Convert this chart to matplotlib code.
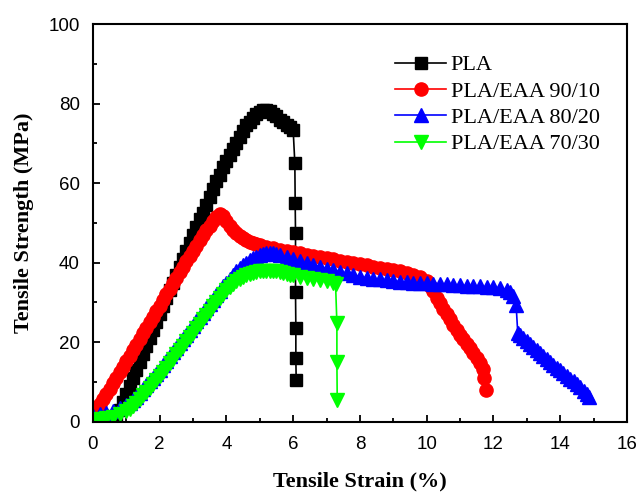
import matplotlib
matplotlib.use("Agg")
import matplotlib.pyplot as plt

# PLA
pla_strain = [0.6, 0.7, 0.8, 0.9, 1.0, 1.1, 1.2, 1.3, 1.4, 1.5, 1.6, 1.7, 1.8, 1.9,
              2.0, 2.1, 2.2, 2.3, 2.4, 2.5, 2.6, 2.7, 2.8, 2.9, 3.0, 3.1, 3.2, 3.3,
              3.4, 3.5, 3.6, 3.7, 3.8, 3.9, 4.0, 4.1, 4.2, 4.3, 4.4, 4.5, 4.6, 4.7,
              4.8, 4.9, 5.0, 5.1, 5.2, 5.3, 5.4, 5.5, 5.6, 5.7, 5.8, 5.9, 6.0,
              6.05, 6.06, 6.07, 6.07, 6.08, 6.08, 6.09]
pla_stress = [0.5, 1.5, 3, 5, 7, 9, 11, 13, 15, 17, 19, 21, 23, 25,
              27, 29, 31, 33, 35, 37, 39, 41, 43, 45, 47, 49, 51, 52.5,
              54.5, 56.5, 58.5, 60.5, 62, 64, 65.5, 67, 68.5, 70, 71.5, 73, 74.5, 75.5,
              76.5, 77.3, 78, 78.4, 78.5, 78.2, 77.5, 76.8, 76, 75.3, 74.6, 74, 73.3,
              65, 55, 47.5, 32.5, 23.5, 16, 10.5]

# PLA/EAA 90/10
r_strain = [0.0, 0.1, 0.2, 0.3, 0.4, 0.5, 0.6, 0.7, 0.8, 0.9, 1.0, 1.1, 1.2, 1.3,
            1.4, 1.5, 1.6, 1.7, 1.8, 1.9, 2.0, 2.1, 2.2, 2.3, 2.4, 2.5, 2.6, 2.7,
            2.8, 2.9, 3.0, 3.1, 3.2, 3.3, 3.4, 3.5, 3.6, 3.7, 3.8, 3.9, 4.0, 4.1,
            4.2, 4.3, 4.4, 4.5, 4.6, 4.7, 4.8, 4.9, 5.0, 5.2, 5.4, 5.6, 5.8, 6.0,
            6.2, 6.4, 6.6, 6.8, 7.0, 7.2, 7.4, 7.6, 7.8, 8.0, 8.2, 8.4, 8.6, 8.8,
            9.0, 9.2, 9.4, 9.6, 9.8, 10.0, 10.1, 10.2, 10.3, 10.4, 10.5, 10.6, 10.7,
            10.8, 10.9, 11.0, 11.1, 11.2, 11.3, 11.4, 11.5, 11.6, 11.7, 11.72, 11.78]
r_stress = [2.5, 3.5, 4.5, 5.8, 7, 8.3, 9.6, 11, 12.4, 13.8, 15.2, 16.6, 18, 19.4,
            20.8, 22.2, 23.6, 25, 26.4, 27.8, 29.2, 30.6, 32, 33.4, 34.8, 36.2, 37.6, 39,
            40.4, 41.7, 43, 44.3, 45.6, 46.9, 48.1, 49.3, 50.5, 51.5, 52.2, 51.8, 50.5, 49.3,
            48.3, 47.5, 46.8, 46.2, 45.7, 45.3, 45, 44.7, 44.4, 44, 43.6, 43.2, 42.9, 42.6,
            42.3, 42, 41.7, 41.4, 41.1, 40.8, 40.5, 40.2, 39.9, 39.6, 39.3, 39, 38.7, 38.4,
            38.1, 37.8, 37.5, 37, 36.4, 35.5, 34.2, 32.8, 31.2, 29.8, 28.4, 27, 25.7,
            24.4, 23.1, 21.9, 20.7, 19.5, 18.4, 17.2, 16, 14.7, 13.2, 10.9, 8.0]

# PLA/EAA 80/20
b_strain = [0.0, 0.2, 0.4, 0.6, 0.8, 1.0, 1.1, 1.2, 1.3, 1.4, 1.5, 1.6, 1.7, 1.8,
            1.9, 2.0, 2.1, 2.2, 2.3, 2.4, 2.5, 2.6, 2.7, 2.8, 2.9, 3.0, 3.1, 3.2,
            3.3, 3.4, 3.5, 3.6, 3.7, 3.8, 3.9, 4.0, 4.1, 4.2, 4.3, 4.4, 4.5, 4.6,
            4.7, 4.8, 4.9, 5.0, 5.1, 5.2, 5.3, 5.4, 5.5, 5.6, 5.8, 6.0, 6.2, 6.4,
            6.6, 6.8, 7.0, 7.2, 7.4, 7.6, 7.8, 8.0, 8.2, 8.4, 8.6, 8.8, 9.0, 9.2,
            9.4, 9.6, 9.8, 10.0, 10.2, 10.4, 10.6, 10.8, 11.0, 11.2, 11.4, 11.6, 11.8,
            12.0, 12.2, 12.4, 12.5, 12.6, 12.68, 12.73, 12.8, 12.9, 13.0, 13.1, 13.2,
            13.3, 13.4, 13.5, 13.6, 13.7, 13.8, 13.9, 14.0, 14.1, 14.2, 14.3, 14.4,
            14.5, 14.6, 14.7, 14.8, 14.87]
b_stress = [1.5, 1.8, 2.2, 2.7, 3.4, 4.2, 4.8, 5.5, 6.3, 7.2, 8.1, 9.1, 10.1, 11.1,
            12.1, 13.1, 14.2, 15.3, 16.4, 17.5, 18.6, 19.7, 20.8, 21.9, 23, 24.1, 25.2, 26.3,
            27.4, 28.5, 29.6, 30.7, 31.8, 32.9, 34, 35, 36, 37, 37.9, 38.7, 39.4, 40,
            40.6, 41.1, 41.5, 41.9, 42.2, 42.4, 42.5, 42.4, 42.2, 42, 41.5, 41, 40.5, 40,
            39.5, 39, 38.5, 38.1, 37.7, 37.3, 36.9, 36.5, 36.2, 36, 35.8, 35.6, 35.4, 35.2,
            35.1, 35, 34.9, 34.8, 34.7, 34.6, 34.5, 34.4, 34.3, 34.2, 34.1, 34, 33.9,
            33.8, 33.6, 33.2, 32.5, 31.5, 29.3, 22.3, 21.8, 21, 20.3, 19.5, 18.8,
            18, 17.3, 16.5, 15.8, 15, 14.3, 13.6, 12.9, 12.2, 11.5, 10.8, 10.1,
            9.4, 8.6, 7.8, 7, 6.3]

# PLA/EAA 70/30
g_strain = [0.0, 0.2, 0.4, 0.6, 0.8, 1.0, 1.1, 1.2, 1.3, 1.4, 1.5, 1.6, 1.7, 1.8,
            1.9, 2.0, 2.1, 2.2, 2.3, 2.4, 2.5, 2.6, 2.7, 2.8, 2.9, 3.0, 3.1, 3.2,
            3.3, 3.4, 3.5, 3.6, 3.7, 3.8, 3.9, 4.0, 4.1, 4.2, 4.3, 4.4, 4.5, 4.6,
            4.7, 4.8, 4.9, 5.0, 5.1, 5.2, 5.3, 5.4, 5.5, 5.6, 5.7, 5.8, 5.9, 6.0,
            6.2, 6.4, 6.6, 6.8, 7.0, 7.2, 7.27, 7.31, 7.31, 7.32]
g_stress = [0.5, 0.6, 0.8, 1.2, 1.8, 2.6, 3.2, 4, 4.8, 5.7, 6.6, 7.5, 8.5, 9.5,
            10.5, 11.5, 12.5, 13.6, 14.7, 15.8, 16.9, 18, 19.1, 20.2, 21.3, 22.4, 23.5, 24.6,
            25.7, 26.8, 27.9, 29, 30.1, 31.1, 32.1, 33, 33.9, 34.7, 35.4, 36, 36.5, 36.9,
            37.2, 37.5, 37.7, 37.9, 38, 38, 38, 37.9, 37.8, 37.6, 37.4, 37.2, 37, 36.8,
            36.5, 36.2, 35.9, 35.6, 35.3, 35, 34.6, 24.7, 15.1, 5.5]

labels = ['PLA', 'PLA/EAA 90/10', 'PLA/EAA 80/20', 'PLA/EAA 70/30']

fig = plt.figure(figsize=(6.41, 4.92), dpi=100)
ax = fig.add_axes([0.145, 0.143, 0.833, 0.808])

ax.plot(pla_strain, pla_stress, '-s', color='black', ms=8, lw=1.2, label=labels[0])
ax.plot(r_strain, r_stress, '-o', color='#ff0000', ms=9.5, lw=1.2, label=labels[1])
ax.plot(b_strain, b_stress, '-^', color='#0000ff', ms=10, lw=1.2, label=labels[2])
ax.plot(g_strain, g_stress, '-v', color='#00ff00', ms=10, lw=1.2, label=labels[3])

ax.set_xlim(0, 16)
ax.set_ylim(0, 100)
ax.set_xticks(range(0, 17, 2))
ax.set_xticks(range(1, 16, 2), minor=True)
ax.set_yticks(range(0, 101, 20))
ax.set_yticks(range(10, 100, 20), minor=True)
ax.tick_params(which='both', direction='in', top=False, right=False, width=1.3)
ax.tick_params(which='major', length=5, labelsize=13.5)
ax.tick_params(axis='x', which='major', pad=10)
ax.tick_params(axis='y', which='major', pad=9.5)
ax.tick_params(which='minor', length=3)
for lab in ax.get_xticklabels() + ax.get_yticklabels():
    lab.set_family('Liberation Sans')
for sp in ax.spines.values():
    sp.set_linewidth(1.5)

ax.set_xlabel('Tensile Strain (%)', family='Liberation Serif', fontweight='bold',
              fontsize=16, labelpad=14)
ax.set_ylabel('Tensile Strength (MPa)', family='Liberation Serif', fontweight='bold',
              fontsize=16, labelpad=10)

ax.legend(loc='upper left', bbox_to_anchor=(0.549, 0.945), frameon=False, numpoints=1,
          prop={'family': 'Liberation Serif', 'size': 16}, handlelength=2.3,
          handletextpad=0.2, labelspacing=0.26, borderaxespad=0)

fig.savefig('out.png', dpi=100)
